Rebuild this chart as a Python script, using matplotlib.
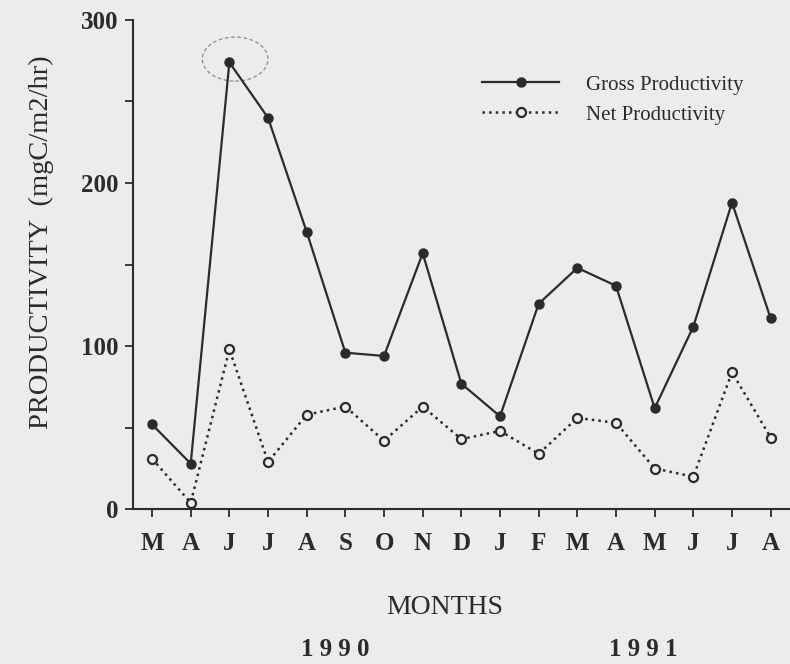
import matplotlib.pyplot as plt
from matplotlib.patches import Ellipse
import numpy as np

# monthly values (mgC/m2/hr)
months = ['M', 'A', 'J', 'J', 'A', 'S', 'O', 'N', 'D', 'J', 'F', 'M', 'A', 'M', 'J', 'J', 'A']
gross = [52, 28, 274, 240, 170, 96, 94, 157, 77, 57, 126, 148, 137, 62, 112, 188, 117]
net = [31, 4, 98, 29, 58, 63, 42, 63, 43, 48, 34, 56, 53, 25, 20, 84, 44]
years = ['1 9 9 0', '1 9 9 1']

bg = '#ececec'
ink = '#2b2b2b'
serif = ['Liberation Serif', 'DejaVu Serif']
plt.rcParams['font.family'] = serif

fig = plt.figure(figsize=(7.9, 6.64), dpi=100, facecolor=bg)
ax = fig.add_axes([0.168, 0.233, 0.832, 0.737], facecolor=bg)

x = np.arange(len(months))
ax.plot(x, gross, '-', color=ink, lw=1.6, marker='o', ms=6.5,
        mfc=ink, mec=ink, label='Gross Productivity')
ax.plot(x, net, ':', color=ink, lw=1.8, marker='o', ms=6.5,
        mfc=bg, mec=ink, mew=1.6, label='Net Productivity')

# pencil ring around the June peak
ax.add_patch(Ellipse((x[2] + 0.15, gross[2] + 2), 1.7, 27, fill=False,
                     ls=(0, (3, 2)), lw=0.9, ec='#8a8a8a', zorder=1))

ax.set_xlim(-0.5, 16.5)
ax.set_ylim(0, 300)
ax.set_xticks(x)
ax.set_xticklabels(months, fontsize=18, fontweight='bold')
ax.set_yticks([0, 100, 200, 300])
ax.set_yticks([50, 150, 250], minor=True)
ax.set_yticklabels(['0', '100', '200', '300'], fontsize=18, fontweight='bold')
ax.tick_params(axis='y', which='both', length=6, width=1.3, color=ink,
               labelcolor=ink, pad=4)
ax.tick_params(axis='x', length=6, width=1.3, color=ink, labelcolor=ink, pad=10)

for side in ['top', 'right']:
    ax.spines[side].set_visible(False)
for side in ['left', 'bottom']:
    ax.spines[side].set_linewidth(1.5)
    ax.spines[side].set_color(ink)

fig.text(0.053, 0.636, 'PRODUCTIVITY  (mgC/m2/hr)', rotation=90, fontsize=20.5,
         color=ink, ha='center', va='center')
fig.text(0.563, 0.085, 'MONTHS', fontsize=20, color=ink, ha='center', va='center')
fig.text(0.424, 0.022, years[0], fontsize=18, fontweight='bold', color=ink,
         ha='center', va='center')
fig.text(0.814, 0.022, years[1], fontsize=18, fontweight='bold', color=ink,
         ha='center', va='center')

leg = ax.legend(loc='upper left', bbox_to_anchor=(482 / 790, 1 - 75 / 664),
                bbox_transform=fig.transFigure, frameon=False, fontsize=15,
                numpoints=1, handlelength=3.7, handletextpad=1.3,
                borderpad=0, borderaxespad=0, labelspacing=0.5)
for t in leg.get_texts():
    t.set_color(ink)

fig.savefig('out.png', dpi=100, facecolor=bg)
